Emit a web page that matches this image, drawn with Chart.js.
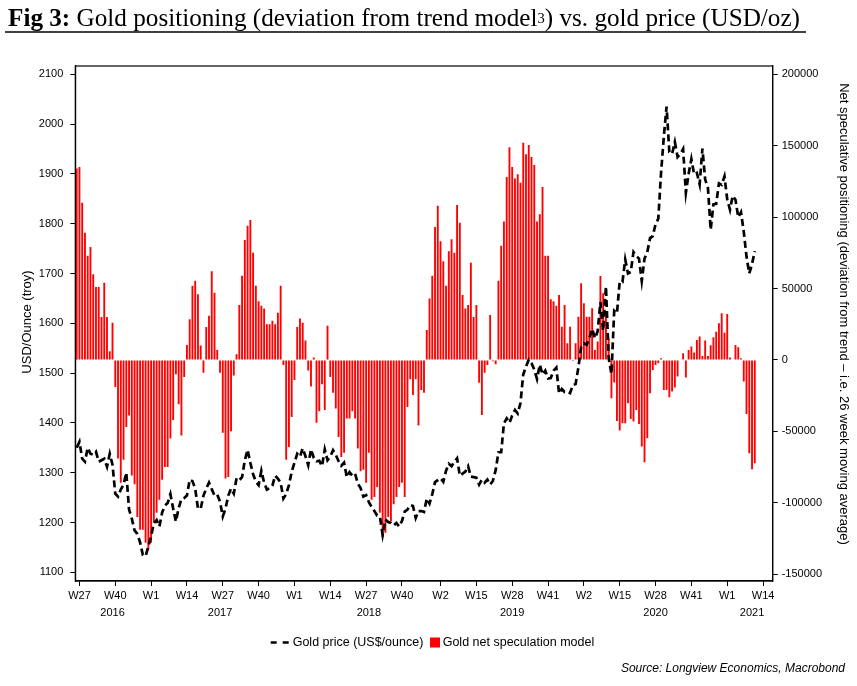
<!DOCTYPE html>
<html>
<head>
<meta charset="utf-8">
<script src="https://cdn.jsdelivr.net/npm/chart.js@4.4.1/dist/chart.umd.min.js"></script>
<style>
html,body{margin:0;padding:0;background:#fff;}
canvas{display:block;}
</style>
</head>
<body>
<canvas id="c" width="857" height="686"></canvas>
<script>
// ---- category definition: weekly buckets (ISO week numbers) ----
const catYears     = [2016, 2017, 2018, 2019, 2020, 2021];
const catFirstWeek = [26, 1, 1, 1, 1, 1];
const catLastWeek  = [52, 52, 52, 52, 53, 17];
const weeks = [];
catYears.forEach((y, k) => { for (let w = catFirstWeek[k]; w <= catLastWeek[k]; w++) weeks.push('W' + w + ' ' + y); });

// ---- x tick labels and year labels ----
const tickWeeks = ['W27 2016','W40 2016','W1 2017','W14 2017','W27 2017','W40 2017','W1 2018','W14 2018','W27 2018','W40 2018',
                   'W2 2019','W15 2019','W28 2019','W41 2019','W2 2020','W15 2020','W28 2020','W41 2020','W1 2021','W14 2021'];
const yearText   = ['2016', '2017', '2018', '2019', '2020', '2021'];
const yearAnchor = ['W39 2016', 'W26 2017', 'W28 2018', 'W28 2019', 'W28 2020', 'W10 2021'];

// ---- y tick labels ----
const leftTicks  = [1100, 1200, 1300, 1400, 1500, 1600, 1700, 1800, 1900, 2000, 2100];
const rightTicks = [-150000, -100000, -50000, 0, 50000, 100000, 150000, 200000];

// ---- series: gold price (US$/ounce), weekly from W26 2016 ----
const goldPrice = [
1350,1362,1328,1322,1350,1338,1336,1342,1322,1325,
1328,1312,1338,1316,1258,1252,1266,1276,1300,1226,
1208,1184,1177,1160,1135,1132,1152,1173,1198,1205,
1192,1220,1234,1239,1257,1228,1202,1229,1247,1249,
1254,1286,1283,1268,1228,1228,1254,1268,1280,1267,
1254,1256,1242,1212,1228,1254,1268,1258,1289,1285,
1291,1325,1346,1320,1297,1282,1275,1304,1280,1266,
1269,1274,1294,1288,1280,1248,1257,1275,1302,1320,
1338,1332,1349,1333,1315,1347,1330,1323,1324,1313,
1347,1325,1332,1345,1336,1323,1314,1320,1291,1301,
1294,1298,1278,1269,1252,1255,1241,1231,1223,1214,
1212,1175,1206,1201,1199,1194,1199,1192,1203,1222,
1226,1235,1233,1209,1223,1223,1221,1248,1238,1257,
1281,1285,1289,1282,1304,1318,1313,1322,1329,1294,
1298,1302,1313,1292,1291,1290,1276,1286,1280,1286,
1276,1284,1305,1341,1341,1399,1409,1400,1415,1426,
1419,1440,1497,1513,1527,1520,1507,1488,1517,1497,
1505,1489,1490,1505,1511,1459,1468,1462,1463,1460,
1476,1478,1511,1552,1560,1557,1571,1589,1570,1584,
1643,1585,1674,1530,1498,1625,1620,1684,1683,1728,
1700,1703,1743,1735,1730,1685,1730,1743,1771,1775,
1799,1810,1902,1975,2035,1944,1940,1964,1934,1940,
1950,1862,1900,1930,1899,1902,1879,1951,1889,1872,
1788,1839,1840,1881,1878,1895,1849,1828,1856,1848,
1813,1823,1784,1734,1700,1719,1745
];

// ---- series: gold net speculation model (deviation from 26w MA), weekly from W26 2016 ----
const netSpec = [
134000,135000,110000,89000,73000,79000,60000,51000,51000,30000,54000,30000,6000,26000,
-19000,-69000,-86000,-70000,-47000,-39000,-81000,-87000,-110000,-119000,-119000,-128000,-133000,-128000,
-114000,-107000,-98000,-84000,-75000,-75000,-55000,-42000,-10000,-31000,-53000,-12000,
10500,28500,52000,55500,46000,10000,
-9000,
23000,31000,62000,47000,7000,
-9000,-51000,-83000,-82000,-50000,-11000,
4000,38500,59000,84000,94000,98000,75000,52000,41000,38000,36000,25000,25000,27500,25000,33000,52000,
-3500,-70000,-61000,-40000,-14000,
23000,29000,26000,13500,
-7500,-18700,
1600,
-44000,-36000,-17000,-35000,
24000,
-12000,-23000,-34000,-54000,-68000,-65000,-41000,-41000,-36000,-41000,-62000,-78000,-77000,-86000,-65000,
-98000,-96000,-89000,-107000,-124000,-121000,-110000,-113000,-101000,-96000,-89000,-86000,-96000,
-33000,-13500,-24500,-13500,-46000,-21000,-23000,
21000,43000,59000,93000,108000,83000,69000,52000,76000,84500,75000,108500,96000,45500,36000,38500,68000,30000,38500,
-16000,-38500,-9000,-3500,
31500,
-1000,-3000,
55500,80000,97000,128000,149000,135000,127000,130000,124000,152000,144000,150500,
142000,136500,97000,102000,121000,73000,73000,42500,41000,38000,
45500,23300,38500,11700,23300,-700,11700,30300,53700,39700,30300,30300,36200,7000,12800,58800,46700,34000,15000,
-26800,-15900,-42700,-49500,-44300,-44300,-30300,-41300,-43200,-35000,-44800,-60700,-71700,-54800,-23300,-7000,
-3500,-2300,1200,-21000,-21000,-26100,-22200,-19400,-11700,-500,4700,-12400,
7000,9300,5100,14000,16300,2800,13500,2800,10300,15900,19800,25700,32700,19100,32200,1600,300,10500,8900,1200,
-15200,-37800,-65400,-76600,-72400
];

// ---- texts ----
const titleBold = 'Fig 3:';
const titleMain = ' Gold positioning (deviation from trend model';
const titleSup  = '3';
const titleEnd  = ') vs. gold price (USD/oz)';
const leftTitle  = 'USD/Ounce (troy)';
const rightTitle = 'Net speculative positioning (deviation from trend \u2013 i.e. 26 week moving average)';
const legendGold = 'Gold price (US$/ounce)';
const legendSpec = 'Gold net speculation model';
const sourceText = 'Source: Longview Economics, Macrobond';

const SANS = '"Liberation Sans", Arial, sans-serif';
const SERIF = '"Liberation Serif", "Times New Roman", serif';

const tickIdx = tickWeeks.map(t => weeks.indexOf(t));
const padTo = arr => weeks.map((_, i) => (i < arr.length ? arr[i] : null));

const decor = {
  id: 'decor',
  afterDraw(chart) {
    const ctx = chart.ctx, a = chart.chartArea, xs = chart.scales.x;
    ctx.save();
    ctx.setLineDash([]);
    // plot frame
    ctx.strokeStyle = '#000';
    ctx.lineWidth = 1.2;
    ctx.strokeRect(a.left, a.top, a.right - a.left, a.bottom - a.top);

    // title
    const parts = [
      {t: titleBold, f: 'bold 26px ' + SERIF, dy: 0},
      {t: titleMain, f: '26px ' + SERIF, dy: 0},
      {t: titleSup,  f: '15px ' + SERIF, dy: -3},
      {t: titleEnd,  f: '26px ' + SERIF, dy: 0}
    ];
    let tw = 0;
    parts.forEach(p => { ctx.font = p.f; p.w = ctx.measureText(p.t).width; tw += p.w; });
    const sx = (800 - 8) / tw;
    ctx.save();
    ctx.translate(8, 25.5);
    ctx.scale(sx, 1);
    ctx.fillStyle = '#000';
    ctx.textAlign = 'left';
    ctx.textBaseline = 'alphabetic';
    let tx = 0;
    parts.forEach(p => { ctx.font = p.f; ctx.fillText(p.t, tx, p.dy); tx += p.w; });
    ctx.restore();
    ctx.beginPath();
    ctx.moveTo(5, 32); ctx.lineTo(806, 32);
    ctx.lineWidth = 1.3; ctx.strokeStyle = '#000';
    ctx.stroke();

    // axis titles
    ctx.fillStyle = '#000';
    ctx.textAlign = 'center';
    ctx.textBaseline = 'alphabetic';
    ctx.font = '13px ' + SANS;
    ctx.save(); ctx.translate(31, 322); ctx.rotate(-Math.PI / 2); ctx.fillText(leftTitle, 0, 0); ctx.restore();
    ctx.font = '13px ' + SANS;
    ctx.save(); ctx.translate(839.5, 314); ctx.rotate(Math.PI / 2); ctx.fillText(rightTitle, 0, 0); ctx.restore();

    // year labels under x axis
    ctx.font = '11px ' + SANS;
    ctx.textBaseline = 'middle';
    yearText.forEach((t, k) => {
      const px = xs.getPixelForValue(weeks.indexOf(yearAnchor[k]));
      ctx.fillText(t, px, 612.5);
    });

    // legend
    ctx.strokeStyle = '#000';
    ctx.lineWidth = 2.6;
    ctx.setLineDash([6, 6]);
    ctx.beginPath(); ctx.moveTo(270.7, 642.5); ctx.lineTo(289.5, 642.5); ctx.stroke();
    ctx.setLineDash([]);
    ctx.font = '12.5px ' + SANS;
    ctx.textAlign = 'left';
    ctx.textBaseline = 'middle';
    ctx.fillStyle = '#000';
    ctx.fillText(legendGold, 292.7, 642.5);
    ctx.fillStyle = '#ff0000';
    ctx.fillRect(430, 637.5, 10, 10);
    ctx.fillStyle = '#000';
    ctx.fillText(legendSpec, 442.7, 642.5);

    // source
    ctx.font = 'italic 12px ' + SANS;
    ctx.textAlign = 'right';
    ctx.textBaseline = 'alphabetic';
    ctx.fillText(sourceText, 845, 672);
    ctx.restore();
  }
};

new Chart(document.getElementById('c'), {
  type: 'bar',
  data: {
    labels: weeks,
    datasets: [
      {
        type: 'line',
        label: legendGold,
        data: padTo(goldPrice),
        yAxisID: 'y',
        borderColor: '#000',
        borderWidth: 2.7,
        borderDash: [7, 4],
        pointRadius: 0,
        tension: 0,
        fill: false,
        order: 0
      },
      {
        type: 'bar',
        label: legendSpec,
        data: padTo(netSpec),
        yAxisID: 'y2',
        backgroundColor: '#ff0000',
        borderWidth: 0,
        barPercentage: 0.68,
        categoryPercentage: 1.0,
        order: 1
      }
    ]
  },
  options: {
    responsive: false,
    animation: false,
    devicePixelRatio: 1,
    layout: { padding: { left: 15, right: 15, top: 66, bottom: 75 } },
    plugins: { legend: { display: false }, tooltip: { enabled: false }, title: { display: false } },
    scales: {
      x: {
        type: 'category',
        offset: true,
        grid: { display: true, drawOnChartArea: false, drawTicks: true, tickLength: 5, color: '#000', lineWidth: 1, offset: false },
        border: { display: true, color: '#000', width: 1.2 },
        ticks: {
          autoSkip: false, maxRotation: 0, minRotation: 0, padding: 3, color: '#000',
          font: { family: SANS, size: 11 },
          callback: function (v) { return weeks[v].split(' ')[0]; }
        },
        afterBuildTicks: s => { s.ticks = tickIdx.map(v => ({ value: v })); },
        afterFit: s => { s.height = 30; }
      },
      y: {
        type: 'linear', position: 'left',
        min: 1082.5, max: 2116.7,
        grid: { display: true, drawOnChartArea: false, drawTicks: true, tickLength: 5, color: '#000', lineWidth: 1 },
        border: { display: true, color: '#000', width: 1.2 },
        ticks: { padding: 7, color: '#000', font: { family: SANS, size: 11 }, callback: v => String(v) },
        afterBuildTicks: s => { s.ticks = leftTicks.map(v => ({ value: v })); },
        afterFit: s => { s.width = 60.3; }
      },
      y2: {
        type: 'linear', position: 'right',
        min: -154830, max: 205810,
        grid: { display: true, drawOnChartArea: false, drawTicks: true, tickLength: 5, color: '#000', lineWidth: 1 },
        border: { display: true, color: '#000', width: 1.2 },
        ticks: { padding: 4, color: '#000', font: { family: SANS, size: 11 }, callback: v => String(v) },
        afterBuildTicks: s => { s.ticks = rightTicks.map(v => ({ value: v })); },
        afterFit: s => { s.width = 69.3; }
      }
    }
  },
  plugins: [decor]
});
</script>
</body>
</html>
